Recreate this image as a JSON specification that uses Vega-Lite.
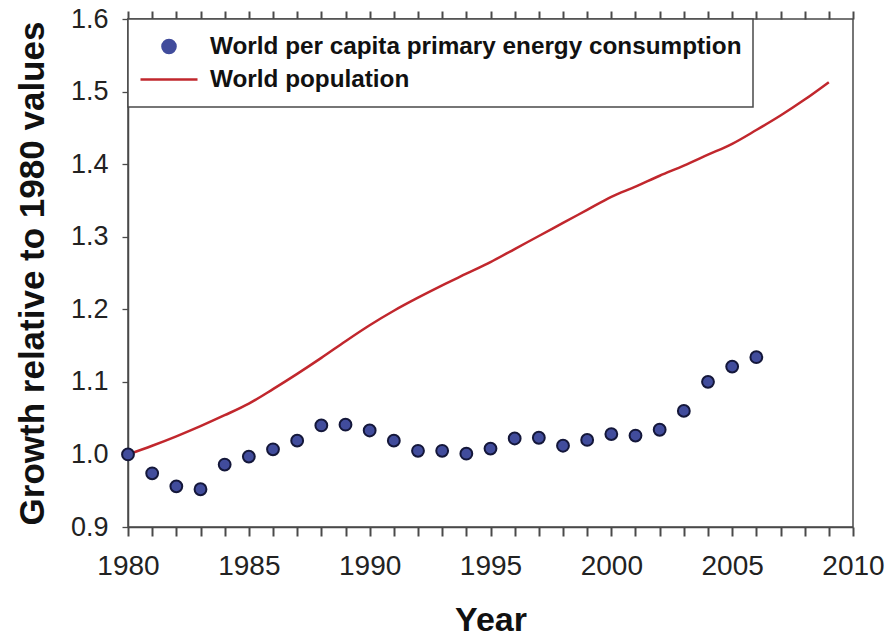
{
  "$schema": "https://vega.github.io/schema/vega-lite/v6.json",
  "width": 725,
  "height": 508,
  "autosize": {"type": "none"},
  "padding": {"left": 128, "top": 19, "right": 37, "bottom": 115},
  "background": "white",
  "config": {
    "font": "Liberation Sans",
    "view": {"stroke": "#4a4a4a", "strokeWidth": 1.5},
    "axis": {
      "grid": false,
      "domainColor": "#4a4a4a",
      "domainWidth": 1.5,
      "tickColor": "#4a4a4a",
      "tickWidth": 1.3,
      "labelColor": "#222222",
      "titleColor": "#111111",
      "labelFont": "Liberation Sans",
      "titleFont": "Liberation Sans"
    },
    "axisX": {"ticks": true, "tickWidth": 2, "tickColor": "#4a4a4a", "tickOpacity": 1}
  },
  "data": {
    "values": [
      {"series": "World per capita primary energy consumption", "year": 1980, "value": 1.000},
      {"series": "World per capita primary energy consumption", "year": 1981, "value": 0.974},
      {"series": "World per capita primary energy consumption", "year": 1982, "value": 0.956},
      {"series": "World per capita primary energy consumption", "year": 1983, "value": 0.952},
      {"series": "World per capita primary energy consumption", "year": 1984, "value": 0.986},
      {"series": "World per capita primary energy consumption", "year": 1985, "value": 0.997},
      {"series": "World per capita primary energy consumption", "year": 1986, "value": 1.007},
      {"series": "World per capita primary energy consumption", "year": 1987, "value": 1.019},
      {"series": "World per capita primary energy consumption", "year": 1988, "value": 1.040},
      {"series": "World per capita primary energy consumption", "year": 1989, "value": 1.041},
      {"series": "World per capita primary energy consumption", "year": 1990, "value": 1.033},
      {"series": "World per capita primary energy consumption", "year": 1991, "value": 1.019},
      {"series": "World per capita primary energy consumption", "year": 1992, "value": 1.005},
      {"series": "World per capita primary energy consumption", "year": 1993, "value": 1.005},
      {"series": "World per capita primary energy consumption", "year": 1994, "value": 1.001},
      {"series": "World per capita primary energy consumption", "year": 1995, "value": 1.008},
      {"series": "World per capita primary energy consumption", "year": 1996, "value": 1.022},
      {"series": "World per capita primary energy consumption", "year": 1997, "value": 1.023},
      {"series": "World per capita primary energy consumption", "year": 1998, "value": 1.012},
      {"series": "World per capita primary energy consumption", "year": 1999, "value": 1.020},
      {"series": "World per capita primary energy consumption", "year": 2000, "value": 1.028},
      {"series": "World per capita primary energy consumption", "year": 2001, "value": 1.026},
      {"series": "World per capita primary energy consumption", "year": 2002, "value": 1.034},
      {"series": "World per capita primary energy consumption", "year": 2003, "value": 1.060},
      {"series": "World per capita primary energy consumption", "year": 2004, "value": 1.100},
      {"series": "World per capita primary energy consumption", "year": 2005, "value": 1.121},
      {"series": "World per capita primary energy consumption", "year": 2006, "value": 1.134},
      {"series": "World population", "year": 1980, "value": 1.000},
      {"series": "World population", "year": 1981, "value": 1.012},
      {"series": "World population", "year": 1982, "value": 1.025},
      {"series": "World population", "year": 1983, "value": 1.039},
      {"series": "World population", "year": 1984, "value": 1.054},
      {"series": "World population", "year": 1985, "value": 1.070},
      {"series": "World population", "year": 1986, "value": 1.090},
      {"series": "World population", "year": 1987, "value": 1.111},
      {"series": "World population", "year": 1988, "value": 1.133},
      {"series": "World population", "year": 1989, "value": 1.156},
      {"series": "World population", "year": 1990, "value": 1.178},
      {"series": "World population", "year": 1991, "value": 1.198},
      {"series": "World population", "year": 1992, "value": 1.216},
      {"series": "World population", "year": 1993, "value": 1.233},
      {"series": "World population", "year": 1994, "value": 1.249},
      {"series": "World population", "year": 1995, "value": 1.265},
      {"series": "World population", "year": 1996, "value": 1.283},
      {"series": "World population", "year": 1997, "value": 1.301},
      {"series": "World population", "year": 1998, "value": 1.319},
      {"series": "World population", "year": 1999, "value": 1.337},
      {"series": "World population", "year": 2000, "value": 1.355},
      {"series": "World population", "year": 2001, "value": 1.369},
      {"series": "World population", "year": 2002, "value": 1.384},
      {"series": "World population", "year": 2003, "value": 1.398},
      {"series": "World population", "year": 2004, "value": 1.413},
      {"series": "World population", "year": 2005, "value": 1.428},
      {"series": "World population", "year": 2006, "value": 1.447},
      {"series": "World population", "year": 2007, "value": 1.467},
      {"series": "World population", "year": 2008, "value": 1.489},
      {"series": "World population", "year": 2009, "value": 1.513}
    ]
  },
  "layer": [
    {
      "transform": [{"filter": "datum.series === 'World population'"}],
      "mark": {"type": "line", "interpolate": "monotone", "strokeWidth": 2.5},
      "encoding": {
        "x": {
          "field": "year",
          "type": "quantitative",
          "scale": {"domain": [1980, 2010], "nice": false, "zero": false},
          "axis": {
            "orient": "bottom",
            "title": "Year",
            "titleFontSize": 34,
            "titleFontWeight": "bold",
            "titleBaseline": "alphabetic",
            "titleY": 103,
            "values": [1980, 1981, 1982, 1983, 1984, 1985, 1986, 1987, 1988, 1989, 1990, 1991, 1992, 1993, 1994, 1995, 1996, 1997, 1998, 1999, 2000, 2001, 2002, 2003, 2004, 2005, 2006, 2007, 2008, 2009, 2010],
            "labelExpr": "datum.value % 5 === 0 ? format(datum.value, 'd') : ''",
            "labelOverlap": false,
            "labelFlush": false,
            "labelFontSize": 28,
            "labelBaseline": "top",
            "labelPadding": 16,
            "tickSize": 9,
            "encode": {
              "ticks": {"update": {"y2": {"signal": "datum.value % 5 === 0 ? 9 : 5"}}}
            }
          }
        },
        "y": {
          "field": "value",
          "type": "quantitative",
          "scale": {"domain": [0.9, 1.6], "nice": false, "zero": false},
          "axis": {
            "title": "Growth relative to 1980 values",
            "titleFontSize": 35,
            "titleFontWeight": "bold",
            "titleAngle": -90,
            "titleAlign": "center",
            "titleBaseline": "alphabetic",
            "titleX": -85,
            "titleY": 254,
            "values": [0.9, 1.0, 1.1, 1.2, 1.3, 1.4, 1.5, 1.6],
            "format": ".1f",
            "labelFontSize": 27,
            "labelPadding": 14,
            "tickSize": 6
          }
        },
        "color": {
          "field": "series",
          "type": "nominal",
          "scale": {
            "domain": ["World per capita primary energy consumption", "World population"],
            "range": ["#414c9c", "#c1272d"]
          },
          "legend": {
            "orient": "none",
            "legendX": 0,
            "legendY": 0,
            "title": null,
            "direction": "vertical",
            "padding": 11,
            "clipHeight": 33,
            "rowPadding": 0,
            "symbolType": "stroke",
            "symbolSize": 3249,
            "symbolStrokeWidth": 2.5,
            "symbolOffset": 0,
            "labelOffset": 11,
            "labelFontSize": 24.3,
            "labelFontWeight": "bold",
            "labelColor": "#111111",
            "labelLimit": 0,
            "strokeColor": "#4a4a4a",
            "fillColor": "white",
            "cornerRadius": 0,
            "encode": {
              "legend": {"update": {"strokeWidth": {"value": 1.5}}},
              "symbols": {
                "update": {
                  "size": {"value": 3249},
                  "strokeWidth": {"value": 2.5},
                  "shape": {"signal": "datum.value === 'World population' ? 'stroke' : 'M-0.23,0A0.23,0.23 0 1,0 0.23,0A0.23,0.23 0 1,0 -0.23,0Z'"},
                  "fill": {"signal": "datum.value === 'World population' ? 'transparent' : '#414c9c'"},
                  "stroke": {"signal": "datum.value === 'World population' ? '#c1272d' : '#14173a'"},
                  "opacity": {"value": 1}
                }
              }
            }
          }
        }
      }
    },
    {
      "transform": [{"filter": "datum.series === 'World per capita primary energy consumption'"}],
      "mark": {"type": "point", "filled": true, "fill": "#414c9c", "stroke": "#14173a", "strokeWidth": 2, "size": 140, "opacity": 1},
      "encoding": {
        "x": {
          "field": "year",
          "type": "quantitative",
          "axis": {
            "orient": "top",
            "title": null,
            "labels": false,
            "domain": false,
            "values": [1980, 1981, 1982, 1983, 1984, 1985, 1986, 1987, 1988, 1989, 1990, 1991, 1992, 1993, 1994, 1995, 1996, 1997, 1998, 1999, 2000, 2001, 2002, 2003, 2004, 2005, 2006, 2007, 2008, 2009, 2010],
            "tickSize": 8,
            "encode": {
              "ticks": {"update": {"y2": {"signal": "datum.value % 5 === 0 ? -8 : -5"}}}
            }
          }
        },
        "y": {"field": "value", "type": "quantitative", "axis": null}
      }
    }
  ],
  "resolve": {"axis": {"x": "independent", "y": "independent"}}
}
